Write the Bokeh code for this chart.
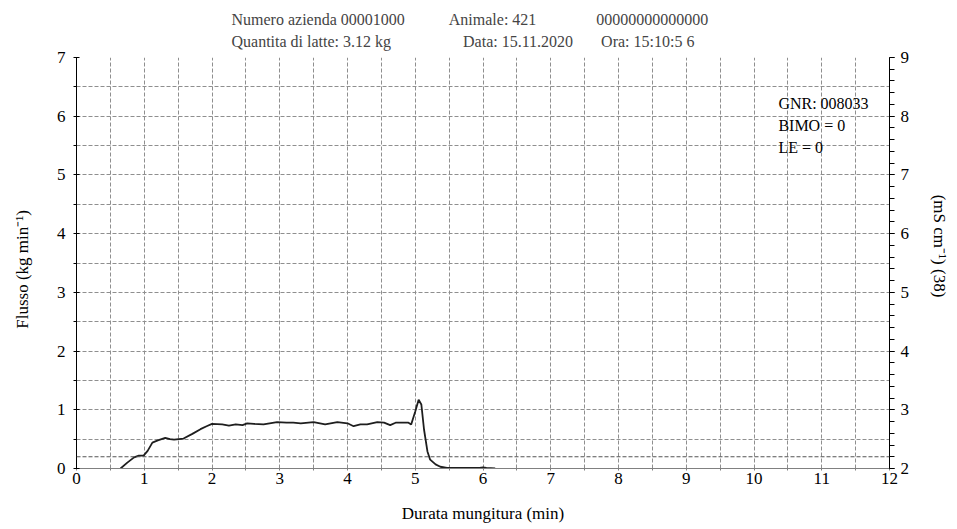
from bokeh.plotting import figure
from bokeh.models import (LinearAxis, Range1d, FixedTicker, Label, Span, Title)
from bokeh.embed import file_html
from bokeh.resources import INLINE

# ---- data ----
time_min = [0.65, 0.75, 0.85, 0.92, 0.99, 1.05, 1.12, 1.2, 1.31, 1.38, 1.44, 1.58, 1.71,
            1.83, 1.92, 2.0, 2.15, 2.25, 2.35, 2.45, 2.52, 2.62, 2.76, 2.85, 2.96, 3.1,
            3.2, 3.31, 3.5, 3.67, 3.85, 4.0, 4.09, 4.19, 4.29, 4.44, 4.54, 4.63, 4.71,
            4.9, 4.94, 5.0, 5.05, 5.09, 5.13, 5.18, 5.22, 5.3, 5.37, 5.47, 5.7, 5.95,
            6.0, 6.05, 6.18]
flow = [0.0, 0.1, 0.19, 0.22, 0.22, 0.3, 0.44, 0.48, 0.52, 0.5, 0.49, 0.51, 0.59,
        0.67, 0.72, 0.76, 0.75, 0.73, 0.75, 0.74, 0.77, 0.76, 0.75, 0.77, 0.79, 0.78,
        0.78, 0.77, 0.79, 0.75, 0.79, 0.77, 0.72, 0.75, 0.75, 0.79, 0.78, 0.74, 0.78,
        0.78, 0.75, 0.97, 1.17, 1.09, 0.66, 0.29, 0.15, 0.07, 0.03, 0.01, 0.01, 0.01,
        0.02, 0.01, 0.0]
x_ticks = list(range(0, 13))
x_minor = [i + 0.5 for i in range(0, 12)]
y_ticks = list(range(0, 8))
y_minor = [i + 0.5 for i in range(0, 7)]
y2_ticks = list(range(2, 10))
y2_minor = [round(2 + 0.2 * i, 1) for i in range(0, 36)]
threshold = 0.2

title_line1 = ["Numero azienda 00001000", "Animale: 421", "00000000000000"]
title_line2 = ["Quantita di latte: 3.12 kg", "Data: 15.11.2020", "Ora: 15:10:5 6"]
info_lines = ["GNR: 008033", "BIMO = 0", "LE = 0"]
info_x = 10.36
info_y = [6.22, 5.84, 5.47]
x_label = "Durata mungitura (min)"
y_label = "Flusso (kg min\u207b\u00b9)"
y2_label = "(mS cm\u207b\u00b9) (38)"

FONT = "Liberation Serif"
FS = "16px"
NB = "\u00a0"

p = figure(width=953, height=525, output_backend="svg", toolbar_location=None,
           x_range=Range1d(0, 12), y_range=Range1d(0, 7),
           min_border_left=76, min_border_right=64, min_border_top=57,
           min_border_bottom=56, outline_line_color=None)
p.extra_y_ranges = {"cond": Range1d(2, 9)}

# two-line title
line1 = title_line1[0] + NB * 11 + title_line1[1] + NB * 15 + title_line1[2]
line2 = title_line2[0] + NB * 18 + title_line2[1] + NB * 7 + title_line2[2]
ttl = Title(text=line1 + "\n" + line2, align="left", offset=155, text_font=FONT,
            text_font_size=FS, text_font_style="normal", text_line_height=1.25,
            standoff=16)
p.add_layout(ttl, "above")

# axes
p.xaxis.ticker = FixedTicker(ticks=x_ticks, minor_ticks=x_minor)
p.yaxis.ticker = FixedTicker(ticks=y_ticks, minor_ticks=y_minor)
for ax in [p.xaxis[0], p.yaxis[0]]:
    ax.major_label_text_font = FONT
    ax.major_label_text_font_size = "17px"
    ax.major_label_text_color = "black"
    ax.axis_label_text_font = FONT
    ax.axis_label_text_font_size = "17px"
    ax.axis_label_text_font_style = "normal"
    ax.axis_label_text_color = "black"
p.xaxis.axis_label = x_label
p.xaxis.axis_label_standoff = 17
p.yaxis.axis_label = y_label + NB * 3
p.yaxis.axis_label_standoff = 22

p.xaxis.axis_line_color = "#808080"
p.xaxis.major_tick_out = 2
p.xaxis.major_tick_in = 0
p.xaxis.minor_tick_out = 2
p.xaxis.minor_tick_in = 0
p.xaxis.major_tick_line_color = "#808080"
p.xaxis.minor_tick_line_color = "#808080"
p.xaxis.major_label_standoff = 2

p.yaxis.axis_line_color = "black"
p.yaxis.major_tick_out = 3
p.yaxis.major_tick_in = 3
p.yaxis.minor_tick_out = 3
p.yaxis.minor_tick_in = 0
p.yaxis.major_label_standoff = 8

ax2 = LinearAxis(y_range_name="cond", ticker=FixedTicker(ticks=y2_ticks, minor_ticks=y2_minor))
ax2.major_label_text_font = FONT
ax2.major_label_text_font_size = "17px"
ax2.major_label_text_color = "black"
ax2.axis_label = y2_label + NB * 8
ax2.axis_label_text_font = FONT
ax2.axis_label_text_font_size = "17px"
ax2.axis_label_text_font_style = "normal"
ax2.axis_label_text_color = "black"
ax2.axis_label_standoff = 18
ax2.axis_line_color = "black"
ax2.major_tick_out = 5
ax2.major_tick_in = 0
ax2.minor_tick_out = 5
ax2.minor_tick_in = 0
ax2.major_label_standoff = 6
p.add_layout(ax2, "right")

# grids
for g in [p.xgrid[0], p.ygrid[0]]:
    g.grid_line_color = "#8f8f8f"
    g.grid_line_dash = "4 2"
    g.grid_line_width = 1
    g.minor_grid_line_color = "#8f8f8f"
    g.minor_grid_line_dash = "4 2"
    g.minor_grid_line_width = 1

p.add_layout(Span(location=threshold, dimension="width", line_color="#555555",
                  line_dash="4 2", line_width=1))

# curve
p.line(time_min, flow, line_color="#1e1e1e", line_width=1.8)

# info text inside the plot
for yv, t in zip(info_y, info_lines):
    p.add_layout(Label(x=info_x, y=yv, text=t, text_font=FONT, text_font_size=FS,
                       text_baseline="middle", text_align="left", text_color="black"))

open("out.html", "w").write(file_html(p, INLINE))
